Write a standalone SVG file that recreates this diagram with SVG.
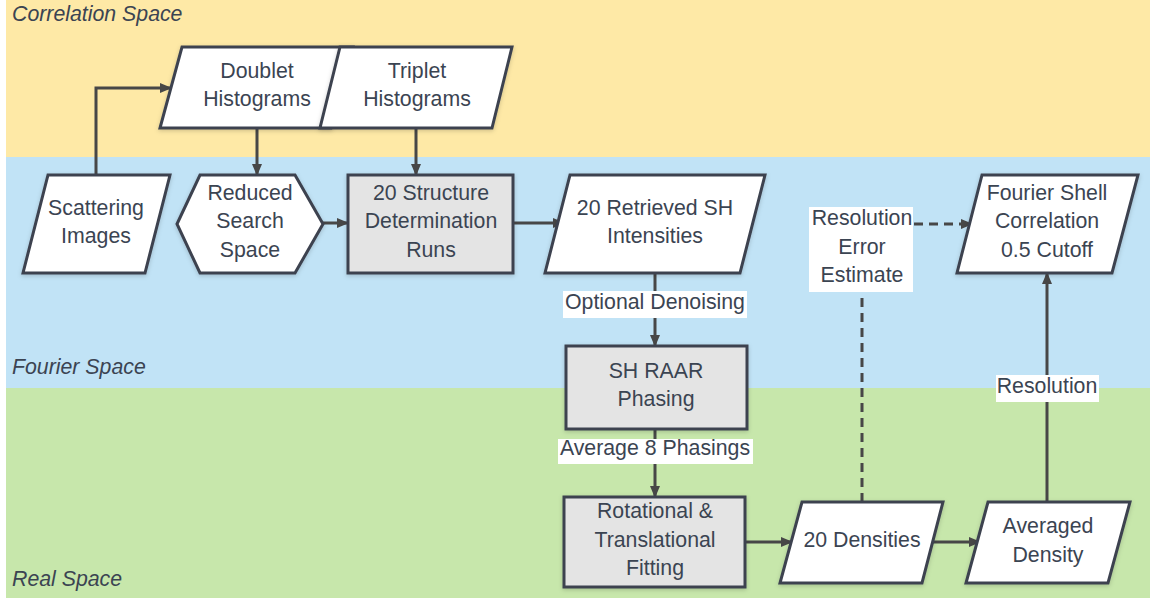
<svg xmlns="http://www.w3.org/2000/svg" width="1150" height="601" viewBox="0 0 1150 601">
<style>
.band-label{font-family:"Liberation Sans",Arial,sans-serif;font-size:21.3px;font-style:italic;fill:#3b4452}
.t{font-family:"Liberation Sans",Arial,sans-serif;font-size:21.3px;fill:#3b4452;text-anchor:middle}
.node{stroke:#3d4350;stroke-width:3;stroke-linejoin:miter;filter:url(#sh)}
.io{fill:#ffffff}
.proc{fill:#e4e4e4}
.conn{fill:none;stroke:#474747;stroke-width:3}
.dash{stroke-dasharray:9 6}
.lbl{fill:#ffffff}
</style>
<defs>
<marker id="arr" viewBox="0 0 12 10" refX="11" refY="5" markerWidth="12" markerHeight="10" markerUnits="userSpaceOnUse" orient="auto">
<path d="M0,0 L12,5 L0,10 Z" fill="#474747"/>
</marker>
<filter id="sh" x="-10%" y="-10%" width="120%" height="130%">
<feDropShadow dx="0" dy="1.5" stdDeviation="2" flood-color="#000" flood-opacity="0.18"/>
</filter>
</defs>
<g id="bands">
<rect x="6" y="0" width="1144" height="157" fill="#fee9a6"/>
<rect x="6" y="157" width="1144" height="231" fill="#c1e3f6"/>
<rect x="6" y="388" width="1144" height="210" fill="#c7e7ab"/>
<text class="band-label" x="12" y="21">Correlation Space</text>
<text class="band-label" x="12" y="374">Fourier Space</text>
<text class="band-label" x="12" y="586">Real Space</text>
</g>
<g id="connectors">
<path class="conn" d="M96,175 V88 H171" marker-end="url(#arr)"/>
<path class="conn" d="M257,128 V175" marker-end="url(#arr)"/>
<path class="conn" d="M416,128 V175" marker-end="url(#arr)"/>
<path class="conn" d="M323,223 H348" marker-end="url(#arr)"/>
<path class="conn" d="M513,223 H564" marker-end="url(#arr)"/>
<path class="conn" d="M655,273 V346" marker-end="url(#arr)"/>
<path class="conn" d="M655,429 V497" marker-end="url(#arr)"/>
<path class="conn" d="M745,542 H792" marker-end="url(#arr)"/>
<path class="conn" d="M929,542 H980" marker-end="url(#arr)"/>
<path class="conn dash" d="M862,502 V224 H972" marker-end="url(#arr)"/>
<path class="conn" d="M1047,502 V273" marker-end="url(#arr)"/>
<rect class="lbl" x="563" y="291" width="184" height="27"/>
<text class="t" x="655" y="309">Optional Denoising</text>
<rect class="lbl" x="558" y="439" width="195" height="25"/>
<text class="t" x="655" y="455">Average 8 Phasings</text>
<rect class="lbl" x="809" y="207" width="104" height="85"/>
<text class="t" x="862" y="225">Resolution</text>
<text class="t" x="862" y="254">Error</text>
<text class="t" x="862" y="282">Estimate</text>
<rect class="lbl" x="996" y="375" width="103" height="27"/>
<text class="t" x="1047" y="393">Resolution</text>
</g>
<g id="doublet">
<polygon class="node io" points="182,47 353,47 331,128 160,128"/>
<text class="t" x="257" y="78">Doublet</text>
<text class="t" x="257" y="106">Histograms</text>
</g>
<g id="triplet">
<polygon class="node io" points="340,47 512,47 492,128 320,128"/>
<text class="t" x="417" y="78">Triplet</text>
<text class="t" x="417" y="106">Histograms</text>
</g>
<g id="scattering">
<polygon class="node io" points="48,175 170,175 145,273 23,273"/>
<text class="t" x="96" y="215">Scattering</text>
<text class="t" x="96" y="243">Images</text>
</g>
<g id="reduced">
<polygon class="node io" points="177,224 200,175 295,175 323,224 295,273 200,273"/>
<text class="t" x="250" y="200">Reduced</text>
<text class="t" x="250" y="228">Search</text>
<text class="t" x="250" y="257">Space</text>
</g>
<g id="structure">
<rect class="node proc" x="348" y="175" width="165" height="98"/>
<text class="t" x="431" y="200">20 Structure</text>
<text class="t" x="431" y="228">Determination</text>
<text class="t" x="431" y="257">Runs</text>
</g>
<g id="retrieved">
<polygon class="node io" points="570,175 765,175 740,273 545,273"/>
<text class="t" x="655" y="215">20 Retrieved SH</text>
<text class="t" x="655" y="243">Intensities</text>
</g>
<g id="fsc">
<polygon class="node io" points="982,175 1138,175 1112,273 957,273"/>
<text class="t" x="1047" y="200">Fourier Shell</text>
<text class="t" x="1047" y="228">Correlation</text>
<text class="t" x="1047" y="257">0.5 Cutoff</text>
</g>
<g id="raar">
<rect class="node proc" x="566" y="346" width="181" height="83"/>
<text class="t" x="656" y="378">SH RAAR</text>
<text class="t" x="656" y="406">Phasing</text>
</g>
<g id="fitting">
<rect class="node proc" x="564" y="497" width="181" height="90"/>
<text class="t" x="655" y="518">Rotational &amp;</text>
<text class="t" x="655" y="547">Translational</text>
<text class="t" x="655" y="575">Fitting</text>
</g>
<g id="densities">
<polygon class="node io" points="802,502 943,502 922,583 780,583"/>
<text class="t" x="862" y="547">20 Densities</text>
</g>
<g id="averaged">
<polygon class="node io" points="988,502 1130,502 1108,583 966,583"/>
<text class="t" x="1048" y="533">Averaged</text>
<text class="t" x="1048" y="562">Density</text>
</g>
</svg>
